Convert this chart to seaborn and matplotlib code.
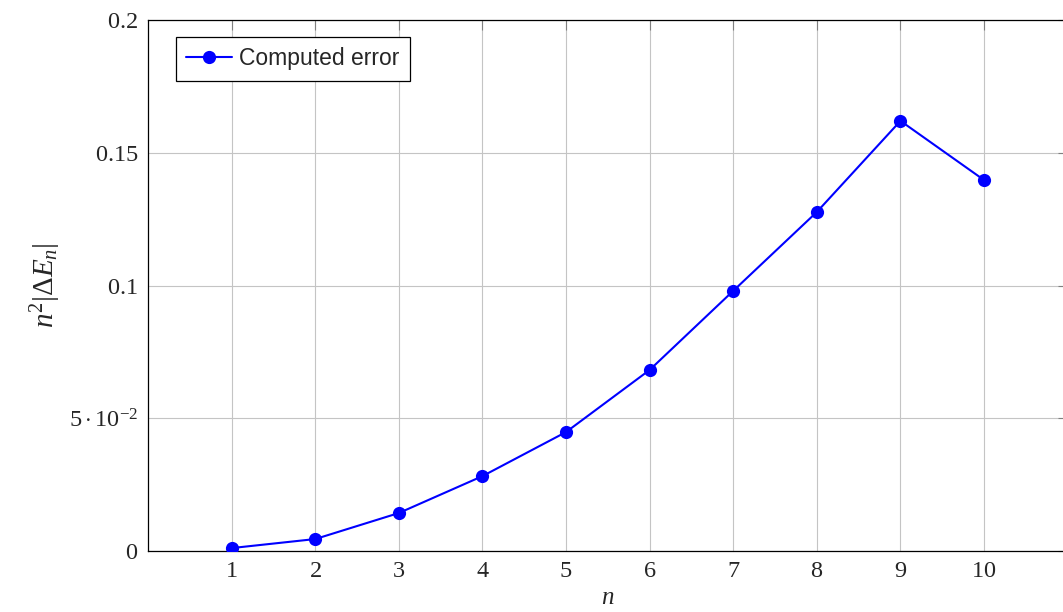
import matplotlib
matplotlib.use("Agg")
import matplotlib.pyplot as plt
import seaborn as sns
import pandas as pd

n_values = [1, 2, 3, 4, 5, 6, 7, 8, 9, 10]
error_values = [0.0011, 0.0045, 0.0143, 0.0282, 0.0448, 0.0682, 0.098, 0.1277, 0.162, 0.1397]
series_label = "Computed error"
y_ticks = [0, 0.05, 0.1, 0.15, 0.2]
y_tick_labels = ["$0$", r"$5\cdot10^{-2}$", "$0.1$", "$0.15$", "$0.2$"]
x_ticks = n_values

sns.set_theme(style="white")
plt.rcParams["font.family"] = ["Liberation Serif", "DejaVu Serif"]
plt.rcParams["mathtext.fontset"] = "custom"
plt.rcParams["mathtext.rm"] = "Liberation Serif"
plt.rcParams["mathtext.it"] = "Liberation Serif:italic"
plt.rcParams["mathtext.bf"] = "Liberation Serif:bold"

df = pd.DataFrame({"n": n_values, "err": error_values})

fig = plt.figure(figsize=(10.63, 6.12), dpi=100)
ax = fig.add_axes([148 / 1063, 61 / 612, (1067.7 - 148) / 1063, 531 / 612])

sns.lineplot(data=df, x="n", y="err", ax=ax, color="#0000ff", marker="o",
             markersize=9.5, markeredgewidth=0, linewidth=1.5, label=series_label,
             zorder=3)

ax.set_xlim(0, 11)
ax.set_ylim(0, 0.2)
ax.set_xticks(x_ticks)
ax.set_xticklabels([f"${v}$" for v in x_ticks])
ax.set_yticks(y_ticks)
ax.set_yticklabels(y_tick_labels)
ax.grid(True, color="#c4c4c4", linewidth=0.8, zorder=0)
ax.set_axisbelow(True)
ax.tick_params(axis="both", direction="in", length=7, width=0.8, color="#808080",
               labelsize=17.5, top=True, right=True, pad=7)
for s in ax.spines.values():
    s.set_color("black")
    s.set_linewidth(0.9)

ax.set_xlabel("$n$", fontsize=18, labelpad=4)
ax.set_ylabel(r"$n^2|\Delta E_n|$", fontsize=21, labelpad=4)

leg = ax.legend(loc="upper left", bbox_to_anchor=(28 / 919.7, 1 - 17 / 531),
                frameon=True, fancybox=False, edgecolor="black", framealpha=1,
                prop={"family": "Liberation Sans", "size": 16.5}, handlelength=2.0,
                borderpad=0.45, handletextpad=0.3, borderaxespad=0)
leg.get_frame().set_linewidth(0.9)

fig.savefig("out.png", dpi=100)
